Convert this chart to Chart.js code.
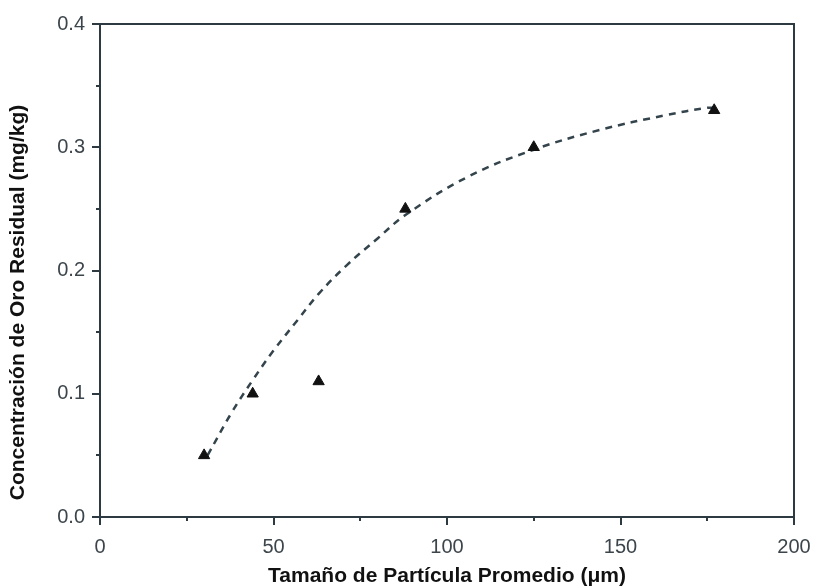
<!DOCTYPE html>
<html>
<head>
<meta charset="utf-8">
<script src="https://cdn.jsdelivr.net/npm/chart.js@4.4.1/dist/chart.umd.min.js"></script>
<style>
  html, body { margin: 0; padding: 0; background: #fff; }
  #wrap { width: 817px; height: 587px; }
</style>
</head>
<body>
<div id="wrap"><canvas id="c" width="817" height="587"></canvas></div>
<script>
// Measured particle sizes (µm) and residual gold (mg/kg)
const sizes = [30, 44, 63, 88, 125, 177];
const residual = [0.05, 0.10, 0.11, 0.25, 0.30, 0.33];

// Trend curve drawn through the measurements
const trendX = [31, 38, 44, 50, 57, 63, 71, 80, 88, 106, 125, 144, 163, 175, 177];
const trendY = [0.050, 0.085, 0.111, 0.135, 0.160, 0.181, 0.204, 0.226, 0.245, 0.276, 0.298, 0.314, 0.326, 0.332, 0.332];

const xTitle = 'Tamaño de Partícula Promedio (\u03bcm)';
const yTitle = 'Concentración de Oro Residual (mg/kg)';

const AXIS = '#2e3a42';
const TICK_TEXT = '#3c454b';
const FONT = 'Liberation Sans, Arial, Helvetica, sans-serif';

const pts = sizes.map((x, i) => ({ x, y: residual[i] }));
const trend = trendX.map((x, i) => ({ x, y: trendY[i] }));

const isMajorX = v => Math.abs(v % 50) < 1e-6;
const isMajorY = v => Math.abs(v * 10 - Math.round(v * 10)) < 1e-6;

// Box around the plot area, outward tick marks (long for labelled ticks)
// and the rotated y-axis title, set a little below the axis middle
const frame = {
  id: 'frame',
  afterDraw(chart) {
    const { ctx, chartArea: a, scales } = chart;
    ctx.save();
    ctx.strokeStyle = AXIS;
    ctx.lineWidth = 2;
    ctx.strokeRect(a.left, a.top, a.right - a.left, a.bottom - a.top);
    ctx.beginPath();
    scales.x.ticks.forEach(t => {
      const px = Math.round(scales.x.getPixelForValue(t.value));
      const len = isMajorX(t.value) ? 8 : 4;
      ctx.moveTo(px, a.bottom);
      ctx.lineTo(px, a.bottom + len);
    });
    scales.y.ticks.forEach(t => {
      const py = Math.round(scales.y.getPixelForValue(t.value));
      const len = isMajorY(t.value) ? 8 : 4;
      ctx.moveTo(a.left, py);
      ctx.lineTo(a.left - len, py);
    });
    ctx.stroke();

    ctx.translate(18, (a.top + a.bottom) / 2 + 32);
    ctx.rotate(-Math.PI / 2);
    ctx.fillStyle = '#111';
    ctx.font = 'bold 21px ' + FONT;
    ctx.textAlign = 'center';
    ctx.textBaseline = 'middle';
    ctx.fillText(yTitle, 0, 0);
    ctx.restore();
  }
};

new Chart(document.getElementById('c'), {
  type: 'scatter',
  data: {
    datasets: [
      {
        data: pts,
        pointStyle: 'triangle',
        pointRadius: 6.5,
        pointBackgroundColor: '#111',
        pointBorderColor: '#111',
        pointBorderWidth: 1,
        showLine: false,
        order: 0
      },
      {
        data: trend,
        showLine: true,
        pointRadius: 0,
        borderColor: '#34444c',
        borderWidth: 2.5,
        borderDash: [7, 6],
        tension: 0.4,
        fill: false,
        order: 1
      }
    ]
  },
  plugins: [frame],
  options: {
    responsive: false,
    animation: false,
    layout: { padding: { top: 24, right: 23, left: 0, bottom: 0 } },
    plugins: { legend: { display: false }, tooltip: { enabled: false } },
    scales: {
      x: {
        type: 'linear',
        min: 0, max: 200,
        border: { display: false },
        grid: { display: false },
        ticks: {
          stepSize: 25,
          autoSkip: false,
          maxRotation: 0,
          padding: 10,
          color: TICK_TEXT,
          font: { family: FONT, size: 20 },
          callback: v => isMajorX(v) ? String(v) : ''
        },
        title: {
          display: true,
          text: xTitle,
          color: '#111',
          font: { family: FONT, size: 21, weight: 'bold', lineHeight: 1.0 },
          padding: { top: 0, bottom: 0 }
        },
        afterFit: s => { s.height = 70; s.paddingLeft = 0; s.paddingRight = 0; }
      },
      y: {
        type: 'linear',
        min: 0, max: 0.4,
        border: { display: false },
        grid: { display: false },
        ticks: {
          stepSize: 0.05,
          autoSkip: false,
          padding: 7,
          color: TICK_TEXT,
          font: { family: FONT, size: 20 },
          callback: v => isMajorY(v) ? v.toFixed(1) : ''
        },
        title: { display: false },
        afterFit: s => { s.width = 100; s.paddingTop = 0; s.paddingBottom = 0; }
      }
    }
  }
});
</script>
</body>
</html>
